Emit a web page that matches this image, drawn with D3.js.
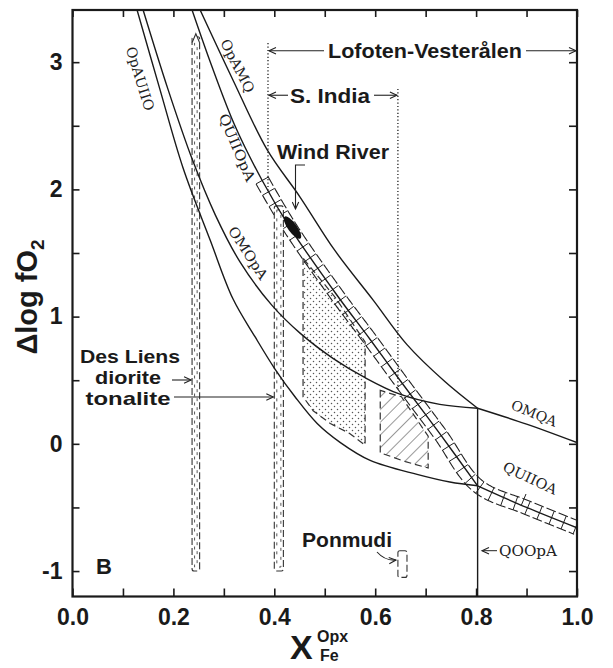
<!DOCTYPE html>
<html>
<head>
<meta charset="utf-8">
<script src="https://cdn.jsdelivr.net/npm/d3@7"></script>
<style>
  body { margin: 0; background: #fff; }
  svg { display: block; }
</style>
</head>
<body>
<div id="app"></div>
<script>
// reaction curves: [X_Fe^Opx, Δlog fO2]
const opAUIIO = [[0.128,3.41],[0.173,2.79],[0.219,2.17],[0.273,1.60],[0.318,1.14],[0.362,0.84],[0.401,0.59],[0.441,0.37],[0.485,0.16],[0.531,0.01],[0.590,-0.13],[0.683,-0.24],[0.748,-0.30],[0.803,-0.33]];
const omOpA = [[0.140,3.41],[0.189,2.79],[0.237,2.24],[0.283,1.80],[0.332,1.43],[0.395,1.09],[0.451,0.87],[0.517,0.67],[0.580,0.52],[0.649,0.39],[0.728,0.31],[0.803,0.28]];
const quIIOpA = [[0.237,3.41],[0.276,2.97],[0.322,2.50],[0.376,2.07],[0.431,1.70],[0.524,1.17],[0.590,0.82],[0.649,0.50],[0.728,0.08],[0.803,-0.33]];
const opAMQ = [[0.253,3.41],[0.318,2.86],[0.386,2.31],[0.451,1.94],[0.520,1.52],[0.596,1.13],[0.663,0.78],[0.738,0.49],[0.803,0.28]];
const omQA = [[0.803,0.28],[0.9,0.155],[1.0,0.01]];
const quIIOA = [[0.803,-0.33],[0.9,-0.50],[1.0,-0.66]];
const qoOpA = [[0.803,-1.2],[0.803,0.28]];

// data fields
const sIndia = [[0.457,1.46],[0.457,0.37],[0.477,0.26],[0.511,0.16],[0.550,0.08],[0.580,-0.01],[0.580,0.80],[0.521,1.15]];
const lofoten = [[0.610,0.42],[0.610,-0.07],[0.660,-0.14],[0.705,-0.19],[0.705,0.06],[0.652,0.37]];
const diorite = { x0: 0.237, x1: 0.252, y0: -1.0, y1: 3.2 };
const tonalite = { x0: 0.400, x1: 0.418, y0: -1.0, y1: 1.87 };
const ponmudi = { x0: 0.645, x1: 0.663, y0: -1.05, y1: -0.84 };
const windRiver = [0.436, 1.70];

// axes
const xTicks = d3.range(0, 1.001, 0.1);
const yTicks = d3.range(-1, 3.01, 0.5);

const width = 613, height = 668;
const x = d3.scaleLinear().domain([0, 1]).range([72.5, 577]);
const y = d3.scaleLinear().domain([-1.2, 3.41]).range([596.5, 10]);

const svg = d3.select("#app").append("svg")
  .attr("width", width)
  .attr("height", height)
  .style("background", "#fff");

const defs = svg.append("defs");
defs.append("clipPath").attr("id", "plot")
  .append("rect")
  .attr("x", x(0)).attr("y", y(3.41))
  .attr("width", x(1) - x(0)).attr("height", y(-1.2) - y(3.41));

defs.append("marker").attr("id", "arr")
  .attr("viewBox", "-8 -4 10 8")
  .attr("markerWidth", 10).attr("markerHeight", 8)
  .attr("markerUnits", "userSpaceOnUse")
  .attr("orient", "auto")
  .append("path")
  .attr("d", "M-7,-3.2L0,0L-7,3.2")
  .attr("fill", "none").attr("stroke", "#222").attr("stroke-width", 1.1);

const dots = defs.append("pattern").attr("id", "dots")
  .attr("patternUnits", "userSpaceOnUse").attr("width", 6).attr("height", 6);
dots.append("circle").attr("cx", 1.5).attr("cy", 1.5).attr("r", 0.75).attr("fill", "#555");
dots.append("circle").attr("cx", 4.5).attr("cy", 4.5).attr("r", 0.75).attr("fill", "#555");

const hatch = defs.append("pattern").attr("id", "hatch")
  .attr("patternUnits", "userSpaceOnUse").attr("width", 9).attr("height", 9)
  .attr("patternTransform", "rotate(45)");
hatch.append("line").attr("x1", 0).attr("y1", 0).attr("x2", 0).attr("y2", 9)
  .attr("stroke", "#333").attr("stroke-width", 1);

const plot = svg.append("g").attr("clip-path", "url(#plot)");
const line = d3.line().x(d => x(d[0])).y(d => y(d[1])).curve(d3.curveCatmullRom.alpha(0.5));
const poly = d3.line().x(d => x(d[0])).y(d => y(d[1])).curve(d3.curveLinearClosed);

// shaded fields
plot.append("path").attr("d", poly(sIndia))
  .attr("fill", "url(#dots)").attr("stroke", "#333").attr("stroke-width", 1.2)
  .attr("stroke-dasharray", "7,4");
plot.append("path").attr("d", poly(lofoten))
  .attr("fill", "url(#hatch)").attr("stroke", "#333").attr("stroke-width", 1.2)
  .attr("stroke-dasharray", "7,4");

// QUIlf band along QUIIOpA + QUIIOA
const bandSrc = plot.append("path")
  .attr("d", line(quIIOpA.slice(3).concat(quIIOA.slice(1))))
  .attr("fill", "none").attr("stroke", "none");
const node = bandSrc.node();
const total = node.getTotalLength();
const upper = [], lower = [], rungs = [];
const off = 7;
function normalAt(l) {
  const a = node.getPointAtLength(Math.max(0, l - 1));
  const b = node.getPointAtLength(Math.min(total, l + 1));
  const dx = b.x - a.x, dy = b.y - a.y, n = Math.hypot(dx, dy) || 1;
  return [-dy / n, dx / n];
}
for (let l = 0; l <= total; l += 2) {
  const p = node.getPointAtLength(l), nv = normalAt(l);
  upper.push([p.x + nv[0] * off, p.y + nv[1] * off]);
  lower.push([p.x - nv[0] * off, p.y - nv[1] * off]);
}
for (let l = 0; l <= total; l += 13) {
  const p = node.getPointAtLength(l), nv = normalAt(l);
  rungs.push([[p.x + nv[0] * off, p.y + nv[1] * off], [p.x - nv[0] * off, p.y - nv[1] * off]]);
}
const pl = d3.line();
[upper, lower].forEach(pts => {
  plot.append("path").attr("d", pl(pts))
    .attr("fill", "none").attr("stroke", "#222").attr("stroke-width", 1.1)
    .attr("stroke-dasharray", "10,3");
});
plot.selectAll("line.rung").data(rungs).join("line").attr("class", "rung")
  .attr("x1", d => d[0][0]).attr("y1", d => d[0][1])
  .attr("x2", d => d[1][0]).attr("y2", d => d[1][1])
  .attr("stroke", "#222").attr("stroke-width", 1);

// Des Liens and Ponmudi boxes
function dashedBox(b, inner) {
  plot.append("rect")
    .attr("x", x(b.x0)).attr("y", y(b.y1))
    .attr("width", x(b.x1) - x(b.x0)).attr("height", y(b.y0) - y(b.y1))
    .attr("rx", 2)
    .attr("fill", "#fff").attr("stroke", "#333").attr("stroke-width", 1.1)
    .attr("stroke-dasharray", "7,3");
  if (inner) {
    plot.append("rect")
      .attr("x", x(b.x0) + 2.5).attr("y", y(b.y1) + 4)
      .attr("width", x(b.x1) - x(b.x0) - 5).attr("height", y(b.y0) - y(b.y1) - 8)
      .attr("fill", "none").attr("stroke", "#444").attr("stroke-width", 0.9)
      .attr("stroke-dasharray", "3,6");
  }
}
dashedBox(diorite, true);
dashedBox(tonalite, true);
dashedBox(ponmudi, false);
// arrow tip on top of diorite field
plot.append("path")
  .attr("d", `M${x(diorite.x0)},${y(diorite.y1) + 6}L${(x(diorite.x0) + x(diorite.x1)) / 2},${y(diorite.y1) - 3}L${x(diorite.x1)},${y(diorite.y1) + 6}`)
  .attr("fill", "#fff").attr("stroke", "#333").attr("stroke-width", 1.1);

// reaction curves
[opAUIIO, omOpA, quIIOpA, opAMQ, omQA, quIIOA, qoOpA].forEach(c => {
  plot.append("path").attr("d", line(c))
    .attr("fill", "none").attr("stroke", "#1a1a1a").attr("stroke-width", 1.4);
});

// Wind River
plot.append("ellipse")
  .attr("cx", x(windRiver[0])).attr("cy", y(windRiver[1]))
  .attr("rx", 4.5).attr("ry", 13.5)
  .attr("transform", `rotate(-36,${x(windRiver[0])},${y(windRiver[1])})`)
  .attr("fill", "#111");

// dotted range lines
const dotted = [[0.3875, 3.15, 1.99], [0.645, 2.79, 0.42]];
dotted.forEach(d => {
  svg.append("line")
    .attr("x1", x(d[0])).attr("x2", x(d[0]))
    .attr("y1", y(d[1])).attr("y2", y(d[2]))
    .attr("stroke", "#222").attr("stroke-width", 1.3)
    .attr("stroke-dasharray", "1.2,2.2");
});

// axes
const fmt = d => (Math.round(d * 10) % 2 === 0 ? d3.format(".1f")(d) : "");
const gx = svg.append("g").attr("transform", `translate(0,${y(-1.2)})`)
  .call(d3.axisBottom(x).tickValues(xTicks).tickSize(-8).tickPadding(12).tickFormat(fmt));
const gxt = svg.append("g").attr("transform", `translate(0,${y(3.41)})`)
  .call(d3.axisTop(x).tickValues(xTicks).tickSize(-7).tickFormat(""));
const gy = svg.append("g").attr("transform", `translate(${x(0)},0)`)
  .call(d3.axisLeft(y).tickValues(yTicks).tickSize(-7).tickPadding(10)
    .tickFormat(d => (Number.isInteger(d) ? String(d) : "")));
const gyr = svg.append("g").attr("transform", `translate(${x(1)},0)`)
  .call(d3.axisRight(y).tickValues(yTicks).tickSize(-8).tickFormat(""));
[gx, gxt, gy, gyr].forEach(g => {
  g.select(".domain").remove();
  g.selectAll(".tick line").attr("stroke", "#1a1a1a").attr("stroke-width", 1.6);
  g.selectAll("text")
    .attr("fill", "#1a1a1a")
    .style("font-family", "'Liberation Sans', Arial, sans-serif")
    .style("font-weight", "bold")
    .style("font-size", "23px");
});
svg.append("rect")
  .attr("x", x(0)).attr("y", y(3.41))
  .attr("width", x(1) - x(0)).attr("height", y(-1.2) - y(3.41))
  .attr("fill", "none").attr("stroke", "#1a1a1a").attr("stroke-width", 2.2);

// axis titles
const yt = svg.append("text")
  .attr("transform", "translate(37,297) rotate(-90)")
  .attr("text-anchor", "middle")
  .style("font-family", "'Liberation Sans', Arial, sans-serif")
  .style("font-weight", "bold").style("font-size", "29px").attr("fill", "#1a1a1a");
yt.append("tspan").text("Δlog fO");
yt.append("tspan").text("2").attr("dy", 7).style("font-size", "19px");

const xt = svg.append("g").attr("fill", "#1a1a1a")
  .style("font-family", "'Liberation Sans', Arial, sans-serif").style("font-weight", "bold");
xt.append("text").attr("x", 290).attr("y", 659).style("font-size", "34px").text("X");
xt.append("text").attr("x", 317).attr("y", 642).style("font-size", "16px").text("Opx");
xt.append("text").attr("x", 320).attr("y", 661).style("font-size", "16px").text("Fe");

// curve labels
const serif = "'DejaVu Serif', 'Liberation Serif', serif";
const curveLabels = [
  { t: "OpAUIIO", p: [0.134, 2.87], r: 73, len: 66 },
  { t: "OpAMQ", p: [0.327, 2.97], r: 63, len: 58 },
  { t: "QUIIOpA", p: [0.326, 2.33], r: 67, len: 72 },
  { t: "OMOpA", p: [0.348, 1.50], r: 57, len: 60 },
  { t: "OMQA", p: [0.915, 0.24], r: 22, len: 48 },
  { t: "QUIIOA", p: [0.907, -0.27], r: 25, len: 58 }
];
curveLabels.forEach(l => {
  svg.append("text")
    .attr("transform", `translate(${x(l.p[0])},${y(l.p[1])}) rotate(${l.r})`)
    .attr("text-anchor", "middle").attr("dy", "0.35em")
    .attr("textLength", l.len).attr("lengthAdjust", "spacingAndGlyphs")
    .style("font-family", serif).style("font-size", "14px").attr("fill", "#222")
    .text(l.t);
});
// QUIIOA leader
svg.append("line").attr("x1", 526).attr("y1", 494).attr("x2", 521).attr("y2", 506)
  .attr("stroke", "#222").attr("stroke-width", 1);
// QOOpA
svg.append("line").attr("x1", 497).attr("y1", y(-0.84)).attr("x2", 482).attr("y2", y(-0.84))
  .attr("stroke", "#222").attr("stroke-width", 1).attr("marker-end", "url(#arr)");
svg.append("text").attr("x", 499).attr("y", y(-0.84) + 5)
  .attr("textLength", 58).attr("lengthAdjust", "spacingAndGlyphs")
  .style("font-family", serif).style("font-size", "14px").attr("fill", "#222")
  .text("QOOpA");

// bold annotations
const ann = svg.append("g").attr("fill", "#1a1a1a")
  .style("font-family", "'Liberation Sans', Arial, sans-serif")
  .style("font-weight", "bold").style("font-size", "21px");
const arrow = (x1, y1, x2, y2) => svg.append("line")
  .attr("x1", x1).attr("y1", y1).attr("x2", x2).attr("y2", y2)
  .attr("stroke", "#222").attr("stroke-width", 1.1).attr("marker-end", "url(#arr)");

// Lofoten-Vesterålen
const yL = y(3.09);
ann.append("text").attr("x", 425).attr("y", yL + 7.5)
  .attr("text-anchor", "middle").attr("textLength", 194).attr("lengthAdjust", "spacingAndGlyphs")
  .text("Lofoten-Vesterålen");
arrow(324, yL, x(0.3875) + 1, yL);
arrow(526, yL, x(1) - 1, yL);

// S. India
const yS = y(2.74);
ann.append("text").attr("x", 290).attr("y", yS + 7.5)
  .attr("textLength", 80).attr("lengthAdjust", "spacingAndGlyphs").text("S. India");
arrow(288, yS, x(0.3875) + 1, yS);
arrow(374, yS, x(0.645) - 1, yS);

// Wind River
ann.append("text").attr("x", 277).attr("y", 159)
  .attr("textLength", 112).attr("lengthAdjust", "spacingAndGlyphs").text("Wind River");
svg.append("path").attr("d", `M305,165H295.5V209`)
  .attr("fill", "none").attr("stroke", "#222").attr("stroke-width", 1.1)
  .attr("marker-end", "url(#arr)");

// Des Liens
const dl = ann.append("g").style("font-size", "18.5px");
dl.append("text").attr("x", 130).attr("y", 362.5).attr("text-anchor", "middle")
  .attr("textLength", 100).attr("lengthAdjust", "spacingAndGlyphs").text("Des Liens");
dl.append("text").attr("x", 128).attr("y", 383.5).attr("text-anchor", "middle")
  .attr("textLength", 66).attr("lengthAdjust", "spacingAndGlyphs").text("diorite");
dl.append("text").attr("x", 128).attr("y", 404.5).attr("text-anchor", "middle")
  .attr("textLength", 85).attr("lengthAdjust", "spacingAndGlyphs").text("tonalite");
arrow(172, 380, x(diorite.x0) - 1, 380);
arrow(174, 397, x(tonalite.x0) - 1, 397);

// Ponmudi
ann.append("text").attr("x", 302).attr("y", 547)
  .attr("textLength", 90).attr("lengthAdjust", "spacingAndGlyphs").text("Ponmudi");
svg.append("path").attr("d", "M377,552Q385,561 396,560")
  .attr("fill", "none").attr("stroke", "#222").attr("stroke-width", 1.1)
  .attr("marker-end", "url(#arr)");

// panel letter
ann.append("text").attr("x", 96).attr("y", 574).style("font-size", "22px").text("B");
</script>
</body>
</html>
